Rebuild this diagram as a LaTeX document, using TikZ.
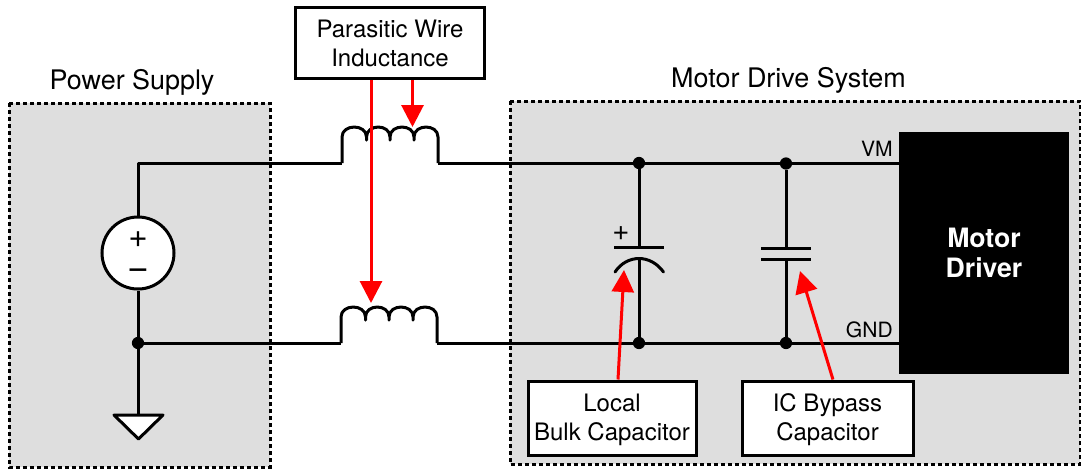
\documentclass[tikz,border=0pt]{standalone}
\usepackage{fontspec}
\setmainfont{TeX Gyre Heros}
\usetikzlibrary{arrows.meta}
\definecolor{panelgray}{HTML}{DEDEDE}
\definecolor{arrowred}{HTML}{FF0000}
\newcommand{\topstrut}{\rule{0pt}{16.2pt}}
\tikzset{
  panel/.style={draw=black,fill=panelgray,line width=2.25pt,dash pattern=on 3pt off 2.25pt},
  wire/.style={draw=black,line width=2.25pt,line join=round},
  jdot/.style={circle,fill=black,draw=none,inner sep=0pt,minimum size=9.2pt},
  labelbox/.style={draw=black,fill=white,line width=2.25pt,inner sep=0pt,align=center,font=\fontsize{18}{21.75}\selectfont},
  title/.style={inner sep=0pt,font=\fontsize{20.2}{24}\selectfont},
  pin/.style={inner sep=0pt,anchor=east,font=\fontsize{15.8}{19}\selectfont},
  callout/.style={draw=arrowred,line width=2.25pt,-{Triangle[length=16.5pt,width=16.5pt]}},
}
% inductor: left terminal (#1), four loops, right terminal named #2
\newcommand{\coilpath}[2]{%
  \draw[wire] (#1) -- ++(0,-26)
    .. controls +(0,-13.3) and +(0,-13.3) .. ++(24.5,0) -- ++(0,3) -- ++(0,-3)
    .. controls +(0,-13.3) and +(0,-13.3) .. ++(23.5,0) -- ++(0,3) -- ++(0,-3)
    .. controls +(0,-13.3) and +(0,-13.3) .. ++(24,0) -- ++(0,3) -- ++(0,-3)
    .. controls +(0,-13.3) and +(0,-13.3) .. ++(24,0) -- (#2);}
\begin{document}
\begin{tikzpicture}[x=0.75pt,y=-0.75pt]
\useasboundingbox (0,0) rectangle (1081,469);
% panels
\path[panel] (9,103) rectangle (270,467);
\path[panel] (510,101) rectangle (1080,464);
\node[title] (pstitle) at (132,82) {Power Supply};
\node[title] (mdtitle) at (788.5,80) {Motor Drive System};
% driver
\node[fill=black,draw=none,minimum width=127.5pt,minimum height=181.5pt,inner sep=0pt,align=center,text=white,font=\fontsize{20}{23}\bfseries\selectfont] (driver) at (984,253) {Motor\\Driver};
% terminals
\coordinate (L1a) at (342,163);
\coordinate (L1b) at (438,163);
\coordinate (L2a) at (341,343);
\coordinate (L2b) at (437,343);
\node[jdot] (j1) at (639,163) {};
\node[jdot] (j2) at (786,163.5) {};
\node[jdot] (j3) at (639,343) {};
\node[jdot] (j4) at (786,343) {};
\node[jdot] (jg) at (138,343) {};
% source
\node[circle,draw=black,fill=white,line width=2.25pt,minimum size=54pt,inner sep=0pt] (vs) at (138,253) {};
\node[inner sep=0pt,font=\fontsize{25}{27}\selectfont] (vsp) at (138,240) {+};
\node[inner sep=0pt,font=\fontsize{28}{30}\selectfont] (vsm) at (138,274) {\textminus};
% ground
\coordinate (gt) at (138,415);
\draw[wire,fill=white] (114,415) -- (163,415) -- (138.5,439) -- cycle;
% wires
\draw[wire] (vs.north) |- (L1a);
\coilpath{L1a}{L1b}
\draw[wire] (L1b) -- (j1) -- (j2 |- j1) -- (driver.west |- j1);
\draw[wire] (vs.south) -- (jg);
\draw[wire] (jg) -- (gt);
\draw[wire] (jg) -- (L2a);
\coilpath{L2a}{L2b}
\draw[wire] (L2b) -- (j3) -- (j4) -- (driver.west |- j3);
% bulk capacitor
\coordinate (c1t) at (639,247);
\coordinate (c1b) at (639,258.5);
\draw[wire] (j1) -- (c1t);
\draw[wire] (614,247) -- (664,247);
\draw[wire,line cap=round] (615,272) .. controls (621,263) and (630,258.5) .. (c1b) .. controls (648,258.5) and (657,263) .. (663.5,272);
\draw[wire] (c1b) -- (j3);
\node[inner sep=0pt,font=\fontsize{22}{24}\selectfont] (c1plus) at (621,234) {+};
% bypass capacitor
\coordinate (c2t) at (786,248);
\coordinate (c2b) at (786,259.5);
\draw[wire] (j2) -- (c2t);
\draw[wire] (761,248) -- (811,248);
\draw[wire] (761,259.5) -- (811,259.5);
\draw[wire] (c2b) -- (j4);
% pin labels
\node[pin] (vm) at (893,149) {VM};
\node[pin] (gnd) at (893,330) {GND};
% label boxes
\node[labelbox,minimum width=142pt,minimum height=53.5pt] (para) at (390,43) {Parasitic Wire\\Inductance};
\node[labelbox,minimum width=126pt,minimum height=55.5pt] (bulk) at (612,418) {\topstrut Local\\Bulk Capacitor};
\node[labelbox,minimum width=128.25pt,minimum height=55.5pt] (bypass) at (827.5,418) {\topstrut IC Bypass\\Capacitor};
% callouts
\coordinate (t1) at (412.5,127);
\coordinate (t2) at (371,303);
\coordinate (t3) at (624,270);
\coordinate (t4) at (800,271);
\draw[callout] (para.south -| t1) -- (t1);
\draw[callout] (para.south -| t2) -- (t2);
\draw[callout] ([xshift=4.5pt]bulk.north) -- (t3);
\draw[callout] ([xshift=4.1pt]bypass.north) -- (t4);
\end{tikzpicture}
\end{document}
